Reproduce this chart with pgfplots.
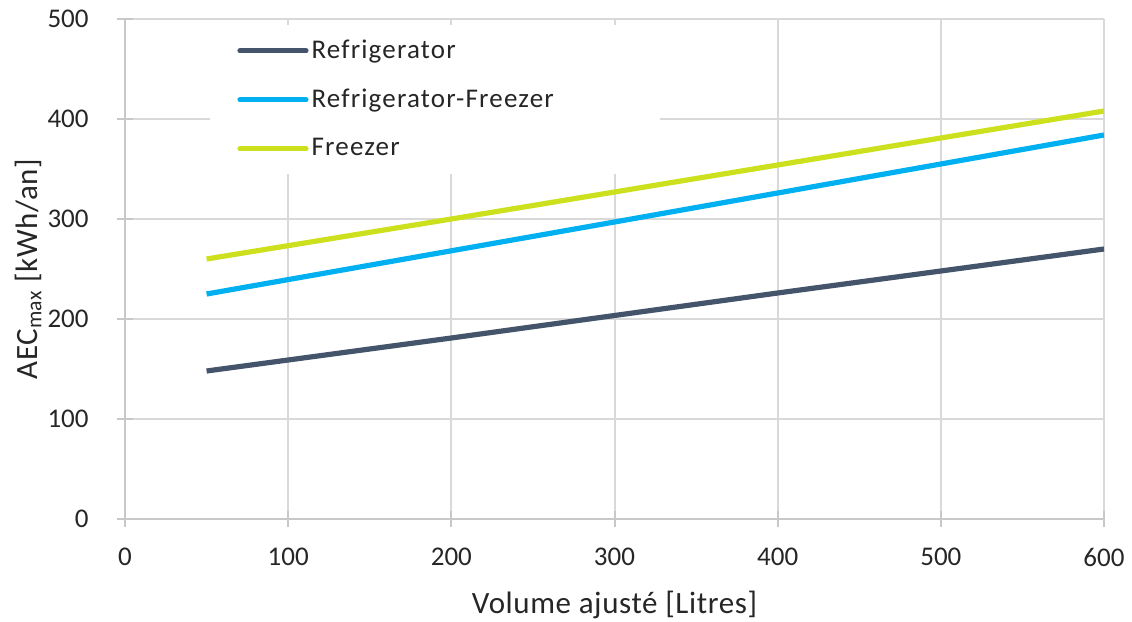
\documentclass[border=0pt]{standalone}
\usepackage{fontspec}
\setmainfont{Carlito}
\newfontfamily\legfont[LetterSpace=4.4]{Carlito}
\newfontfamily\labfont[LetterSpace=2.0]{Carlito}
\usepackage{pgfplots}
\pgfplotsset{compat=1.18}
\definecolor{cRef}{HTML}{44546A}
\definecolor{cRF}{HTML}{00B0F0}
\definecolor{cFr}{HTML}{CCE01E}
\definecolor{cGrid}{HTML}{D9D9D9}
\definecolor{cAxis}{HTML}{C8C8C8}
\definecolor{cText}{HTML}{262626}
\begin{document}
\fontsize{13.5pt}{16pt}\selectfont
\begin{tikzpicture}
\begin{axis}[
  name=ax,
  scale only axis,
  width=489.5pt, height=250pt,
  xmin=0, xmax=600, ymin=0, ymax=500,
  xtick={0,100,...,600}, ytick={0,100,...,500},
  axis lines=left,
  axis line style={draw=cAxis, line width=1pt, -},
  grid=major,
  major grid style={draw=cGrid, line width=1pt},
  tick align=center,
  major tick length=8pt,
  tick style={draw=cAxis, line width=1pt},
  every tick label/.append style={text=cText, font=\fontsize{13.5pt}{16pt}\selectfont},
  /pgf/number format/assume math mode=true,
  xticklabel style={anchor=center, yshift=-15pt},
  yticklabel style={anchor=east, xshift=-9.5pt},
  xlabel={Volume ajusté [Litres]},
  ylabel={AEC\textsubscript{max} [kWh/an]},
  label style={text=cText, font=\labfont\fontsize{15.5pt}{18pt}\selectfont},
  xlabel style={at={(axis description cs:0.5,-0.172)}, anchor=center},
  ylabel style={at={(axis description cs:-0.099,0.5)}, anchor=center},
  legend cell align=left,
  legend image code/.code={\draw[#1, line cap=round] (0pt,0pt) -- (33pt,0pt);},
  legend style={
    at={(axis description cs:0.0868,0.988)}, anchor=north west,
    draw=none, fill=white,
    inner xsep=13.5pt, inner ysep=0.5pt,
    row sep=0pt,
    nodes={inner xsep=1.5pt, inner ysep=0pt, minimum height=24.5pt, text=cText,
      font=\legfont\fontsize{13.5pt}{16pt}\selectfont},
  },
]
\addplot[cRef, line width=2.6pt] coordinates {(50,148) (200,181) (400,226) (600,270)};
\addlegendentry{Refrigerator}
\addplot[cRF, line width=2.6pt] coordinates {(50,225) (300,297) (600,384)};
\addlegendentry{\makebox[159pt][l]{Refrigerator-Freezer}}
\addplot[cFr, line width=2.6pt] coordinates {(50,260) (200,300) (600,408)};
\addlegendentry{Freezer}
\end{axis}
\pgfresetboundingbox
\path ([xshift=-62.5pt, yshift=-51pt]ax.south west) rectangle ([xshift=14pt, yshift=9.5pt]ax.north east);
\end{tikzpicture}
\end{document}
